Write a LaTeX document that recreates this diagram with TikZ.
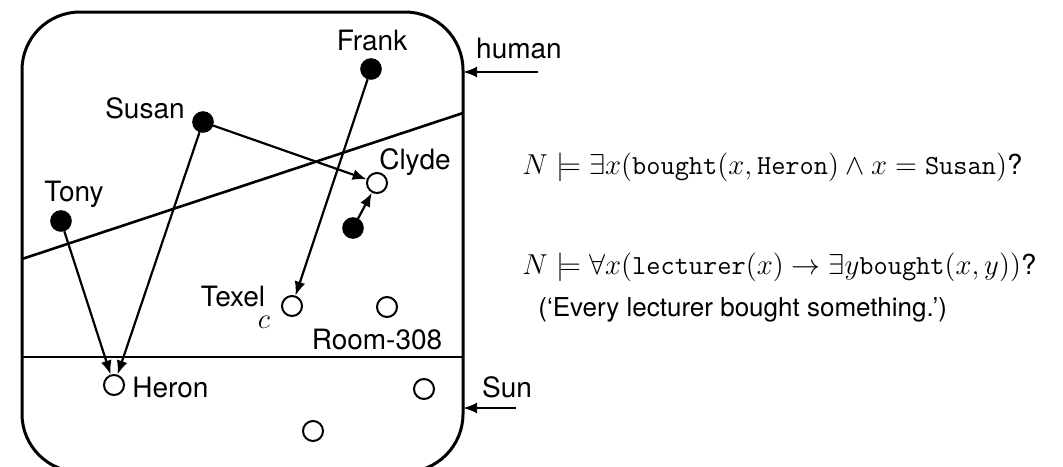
\documentclass[tikz,border=0pt]{standalone}
\usepackage{fontspec}
\setmainfont{TeX Gyre Heros}
\usetikzlibrary{arrows.meta}
\begin{document}
\begin{tikzpicture}[x=0.5pt,y=-0.5pt, font=\fontsize{14}{16}\selectfont,
  full/.style={circle,draw,fill=black,minimum size=10pt,inner sep=0pt,line width=0.8pt},
  empty/.style={circle,draw,fill=white,minimum size=10pt,inner sep=0pt,line width=1pt},
  lab/.style={inner sep=1pt},
  formula/.style={inner sep=1pt,font=\fontsize{13.8}{16}\selectfont,anchor=west},
  note/.style={inner sep=1pt,font=\fontsize{13}{15}\selectfont,anchor=west},
  conn/.style={line width=1.1pt,-{Latex[length=7pt,width=5.5pt]}},
  frame/.style={line width=1.5pt},
  split/.style={line width=1.3pt}]
\useasboundingbox (0,0) rectangle (1063,466);
\clip (0,0) rectangle (1063,466);
% frame
\draw[frame, rounded corners=29pt] (22,12) rectangle (463,472);
% dividing lines
\coordinate (dl) at (22,259);
\coordinate (dr) at (463,113);
\draw[split] (dl) -- (dr);
\coordinate (hl) at (22,357);
\coordinate (hr) at (463,357);
\draw[split] (hl) -- (hr);
% elements
\node[full] (frank) at (371,69) {};
\node[full] (susan) at (203,122) {};
\node[full] (tony) at (61,221) {};
\node[full] (anon) at (353,228) {};
\node[empty] (clyde) at (377,183) {};
\node[empty] (texel) at (292,306) {};
\node[empty] (room) at (387,307) {};
\node[empty] (heron) at (114,385) {};
\node[empty] (sunA) at (424,389) {};
\node[empty] (sunB) at (313,431) {};
% labels
\node[lab] (lfrank) at (372,41) {Frank};
\node[lab] (lsusan) at (145,108) {Susan};
\node[lab] (ltony) at (74,194) {Tony};
\node[lab] (lclyde) at (415,162) {Clyde};
\node[lab] (ltexel) at (233,296) {Texel};
\node[lab] (lc) at (264,322) {$c$};
\node[lab] (lroom) at (377,339) {Room-308};
\node[lab,anchor=west] (lheron) at (130,387) {Heron};
\node[lab] (lhuman) at (519,49) {human};
\node[lab] (lsun) at (507,387) {Sun};
% arrows
\draw[conn] (frank) -- (texel);
\draw[conn] (susan) -- (clyde);
\draw[conn] (susan) -- (heron);
\draw[conn] (tony) -- (heron);
\draw[conn] (anon) -- (clyde);
\coordinate (humtail) at (538,72);
\coordinate (humhead) at (463,72);
\draw[conn] (humtail) -- (humhead);
\coordinate (suntail) at (516,408);
\coordinate (sunhead) at (463,408);
\draw[conn] (suntail) -- (sunhead);
% formulas
\node[formula] (f1) at (520,167) {$N\models\exists x(\texttt{bought}(x,\texttt{Heron})\wedge x=\texttt{Susan})$?};
\node[formula] (f2) at (520,267) {$N\models\forall x(\texttt{lecturer}(x)\rightarrow\exists y\texttt{bought}(x,y))$?};
\node[note] (f3) at (536,310) {(‘Every lecturer bought something.’)};
\end{tikzpicture}
\end{document}
